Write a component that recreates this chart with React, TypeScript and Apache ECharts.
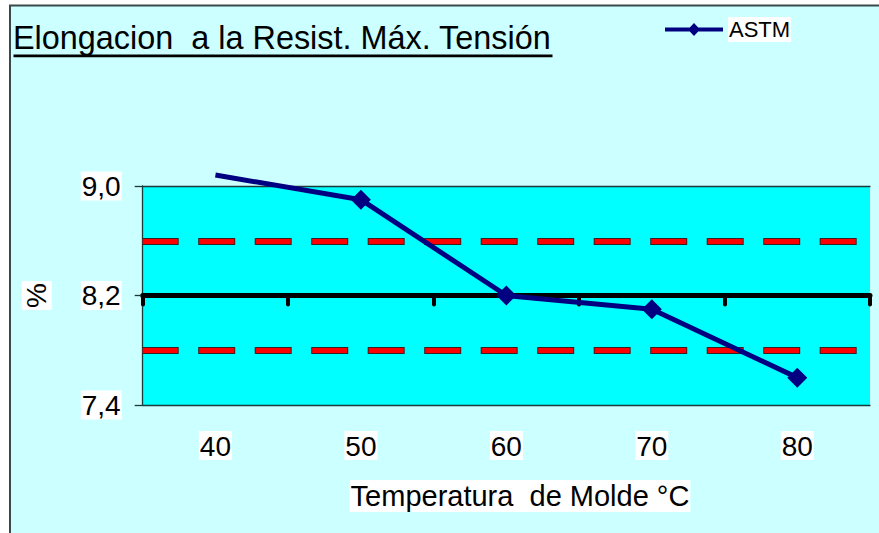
import React, { useEffect, useRef } from 'react';
import * as echarts from 'echarts';

const categories = ['40', '50', '60', '70', '80'];
const astmValues = [9.08, 8.9, 8.2, 8.1, 7.6];
const limitValues = [8.6, 7.8];
const nominalValue = 8.2;
const yTickValues = [7.4, 8.2, 9.0];
const yMin = 7.4;
const yMax = 9.0;
const titleText = 'Elongacion  a la Resist. Máx. Tensión';
const xName = 'Temperatura  de Molde °C';
const yName = '%';
const seriesName = 'ASTM';

const FONT = '"Liberation Sans", Arial, Helvetica, sans-serif';
const LEGEND_ICON = 'path://M0,4.5H24.8L29,0L33.2,4.5H58V8.5H33.2L29,13L24.8,8.5H0Z';

export default function App() {
  const ref = useRef<HTMLDivElement>(null);
  useEffect(() => {
    const chart = echarts.init(ref.current!, null, { renderer: 'svg' });
    const gridTop = 186;
    const gridHeight = 219;
    const nominalOffset = -((nominalValue - yMin) / (yMax - yMin)) * gridHeight;
    const fmt = (v: number) => v.toFixed(1).replace('.', ',');
    chart.setOption({
      animation: false,
      backgroundColor: 'transparent',
      title: {
        text: titleText,
        left: 13,
        top: 22,
        padding: 0,
        textStyle: {
          fontFamily: FONT,
          fontSize: 32.4,
          fontWeight: 'normal',
          color: '#000',
          backgroundColor: '#fff',
          padding: [3, 1, 3, 1],
        },
      },
      legend: {
        data: [{ name: seriesName, icon: LEGEND_ICON }],
        left: 665,
        top: 17,
        padding: 0,
        itemWidth: 58,
        itemHeight: 13,
        textStyle: {
          fontFamily: FONT,
          fontSize: 22,
          color: '#000',
          backgroundColor: '#fff',
          padding: [2, 1, 1, 1],
        },
      },
      grid: {
        left: 142.7,
        top: gridTop,
        width: 727.3,
        height: gridHeight,
        show: true,
        backgroundColor: '#00ffff',
        borderWidth: 0,
      },
      xAxis: [
        {
          type: 'category',
          data: categories,
          boundaryGap: true,
          position: 'bottom',
          axisLine: { show: true, lineStyle: { color: '#1a3a3a', width: 1.3 } },
          axisTick: { show: false },
          splitLine: { show: false },
          axisLabel: {
            fontFamily: FONT,
            fontSize: 28,
            color: '#000',
            backgroundColor: '#fff',
            padding: [1, 1, 0, 1],
            margin: 26,
          },
        },
        {
          type: 'category',
          data: categories,
          boundaryGap: true,
          position: 'bottom',
          offset: nominalOffset,
          axisLine: { show: true, lineStyle: { color: '#000', width: 5 } },
          axisTick: { show: true, inside: false, length: 9, lineStyle: { color: '#000', width: 4, cap: 'round' } },
          axisLabel: { show: false },
          splitLine: { show: false },
        },
        {
          type: 'category',
          data: categories,
          boundaryGap: true,
          position: 'top',
          axisLine: { show: true, lineStyle: { color: '#1a3a3a', width: 1.3 } },
          axisTick: { show: false },
          axisLabel: { show: false },
          splitLine: { show: false },
        },
      ],
      yAxis: {
        type: 'value',
        min: yMin,
        max: yMax,
        name: yName,
        nameLocation: 'middle',
        nameGap: 91,
        nameRotate: 90,
        nameTextStyle: {
          fontFamily: FONT,
          fontSize: 28,
          color: '#000',
          backgroundColor: '#fff',
          padding: [1, 2, 1, 2],
        },
        axisLine: { show: true, lineStyle: { color: '#1a3a3a', width: 1.3 } },
        axisTick: { show: true, length: 8, customValues: yTickValues, lineStyle: { color: '#1a3a3a', width: 1.3 } },
        splitLine: { show: false },
        axisLabel: {
          customValues: yTickValues,
          formatter: fmt,
          fontFamily: FONT,
          fontSize: 28,
          color: '#000',
          backgroundColor: '#fff',
          padding: [1, 1, 0, 1],
          margin: 21,
        },
      },
      graphic: [
        {
          type: 'rect',
          z: -10,
          shape: { x: 10, y: 5.5, width: 900, height: 600 },
          style: { fill: '#ccffff', stroke: '#3a4a4a', lineWidth: 2 },
          silent: true,
        },
        {
          type: 'rect',
          z: 10,
          shape: { x: 13.5, y: 54.5, width: 539, height: 2.8 },
          style: { fill: '#000' },
          silent: true,
        },
        {
          type: 'text',
          z: 10,
          x: 520,
          y: 496,
          style: {
            text: xName,
            fontFamily: FONT,
            fontSize: 29,
            fill: '#000',
            align: 'center',
            verticalAlign: 'middle',
            backgroundColor: '#fff',
            padding: [2, 1, 1, 1],
          },
        },
      ],
      series: [
        {
          name: 'limitsEdge',
          type: 'line',
          data: [],
          z: 1,
          silent: true,
          markLine: {
            silent: true,
            symbol: 'none',
            label: { show: false },
            data: limitValues.map((v) => ({ yAxis: v })),
            lineStyle: { color: '#3a2020', width: 7, type: [37, 19.5], dashOffset: 1, cap: 'butt' },
          },
        },
        {
          name: 'limits',
          type: 'line',
          data: [],
          z: 1,
          silent: true,
          markLine: {
            silent: true,
            symbol: 'none',
            label: { show: false },
            data: limitValues.map((v) => ({ yAxis: v })),
            lineStyle: { color: '#ff0000', width: 5, type: [35, 21.5], cap: 'butt' },
          },
        },
        {
          name: seriesName,
          type: 'line',
          clip: false,
          z: 5,
          data: astmValues.map((v) => (v > yMax ? { value: v, symbol: 'none' } : v)),
          symbol: 'diamond',
          symbolSize: 20,
          lineStyle: { color: '#000080', width: 5 },
          itemStyle: { color: '#000080' },
        },
      ],
    });
    return () => chart.dispose();
  }, []);
  return <div ref={ref} style={{ position: 'absolute', left: 0, top: 0, width: 879, height: 533 }} />;
}
